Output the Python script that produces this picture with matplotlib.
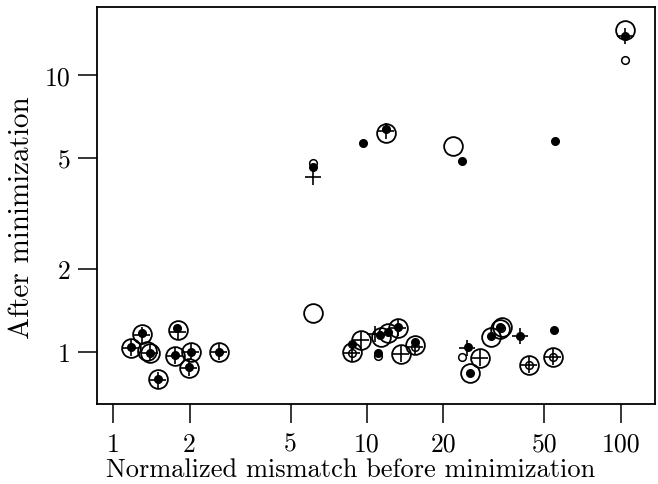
import matplotlib
matplotlib.use("Agg")
import matplotlib.pyplot as plt
from matplotlib.ticker import FixedLocator, FixedFormatter, NullLocator

plt.rcParams["font.family"] = ["cmr10", "DejaVu Serif"]
plt.rcParams["mathtext.fontset"] = "cm"
plt.rcParams["axes.unicode_minus"] = False

# ==========================
# Data
# ==========================
# large open circles
big_x = [1.300, 1.177, 1.398, 1.361, 1.803, 1.754, 2.028, 1.992, 2.615, 1.504,
         6.13, 11.88, 21.81, 103.7, 9.471, 8.728, 11.35, 12.10, 13.25, 13.61,
         15.45, 33.39, 34.00, 30.76, 27.86, 25.44, 43.43, 53.99]
big_y = [1.162, 1.034, 0.992, 1.008, 1.201, 0.967, 1.000, 0.876, 1.000, 0.799,
         1.383, 6.174, 5.543, 14.54, 1.105, 1.000, 1.133, 1.171, 1.221, 0.984,
         1.060, 1.211, 1.231, 1.133, 0.951, 0.840, 0.898, 0.959]

# plus signs
plus_x = [1.300, 1.177, 1.398, 1.803, 1.754, 2.028, 1.992, 2.615, 1.504,
          6.13, 11.88, 103.7, 9.471, 8.728, 10.75, 13.25, 13.61, 15.45,
          24.75, 40.03, 27.86, 43.43, 53.99]
plus_y = [1.153, 1.034, 0.992, 1.184, 0.967, 1.000, 0.876, 1.000, 0.791,
          4.282, 6.278, 13.83, 1.105, 0.992, 1.162, 1.221, 0.984, 1.042,
          1.034, 1.142, 0.951, 0.898, 0.959]

# filled dots
dot_x = [1.300, 1.177, 1.398, 1.790, 1.754, 2.028, 1.992, 2.615, 1.504,
         6.13, 9.644, 11.88, 23.66, 54.98, 103.7, 8.728, 11.05, 11.25,
         12.10, 13.25, 15.40, 33.39, 30.76, 40.03, 54.48, 24.98, 25.44]
dot_y = [1.171, 1.042, 0.992, 1.220, 0.975, 1.000, 0.883, 1.000, 0.799,
         4.655, 5.683, 6.383, 4.894, 5.778, 13.83, 1.069, 0.992, 1.151,
         1.180, 1.231, 1.087, 1.231, 1.142, 1.142, 1.201, 1.042, 0.840]

# small open circles
small_x = [6.13, 103.7, 8.728, 11.05, 23.66, 15.45, 43.43, 53.99, 33.60]
small_y = [4.812, 11.33, 0.992, 0.967, 0.959, 1.042, 0.898, 0.959, 1.221]

x_ticks = [1, 2, 5, 10, 20, 50, 100]
y_ticks = [1, 2, 5, 10]

# ==========================
# Figure
# ==========================
fig = plt.figure(figsize=(6.58, 4.85), dpi=100)
ax = fig.add_axes([97 / 658, 1 - 405 / 485, 558 / 658, 397 / 485])

ax.plot(big_x, big_y, linestyle="none", marker="o", markersize=13.5,
        markerfacecolor="none", markeredgecolor="black", markeredgewidth=1.3)
ax.plot(small_x, small_y, linestyle="none", marker="o", markersize=5.5,
        markerfacecolor="white", markeredgecolor="black", markeredgewidth=1.1)
ax.plot(plus_x, plus_y, linestyle="none", marker="+", markersize=11,
        color="black", markeredgewidth=1.2)
ax.plot(dot_x, dot_y, linestyle="none", marker="o", markersize=5.5,
        color="black")

# ==========================
# Formatting
# ==========================
ax.set_xscale("log")
ax.set_yscale("log")
ax.set_xlim(0.863, 136.5)
ax.set_ylim(0.649, 17.6)

ax.xaxis.set_major_locator(FixedLocator(x_ticks))
ax.xaxis.set_major_formatter(FixedFormatter([str(t) for t in x_ticks]))
ax.xaxis.set_minor_locator(NullLocator())
ax.yaxis.set_major_locator(FixedLocator(y_ticks))
ax.yaxis.set_major_formatter(FixedFormatter([str(t) for t in y_ticks]))
ax.yaxis.set_minor_locator(NullLocator())

ax.tick_params(axis="both", direction="out", length=14, width=1.1,
               labelsize=18.5, colors="black")
ax.tick_params(axis="x", pad=6)
ax.tick_params(axis="y", pad=5)
for s in ax.spines.values():
    s.set_linewidth(1.3)

# axis titles placed where the reference has them
fig.text(351 / 658, 1 - 470 / 485, "Normalized mismatch before minimization",
         fontsize=19, ha="center", va="center")
fig.text(22 / 658, 1 - 218 / 485, "After minimization",
         fontsize=21, rotation=90, ha="center", va="center")

fig.savefig("out.png", dpi=100)
